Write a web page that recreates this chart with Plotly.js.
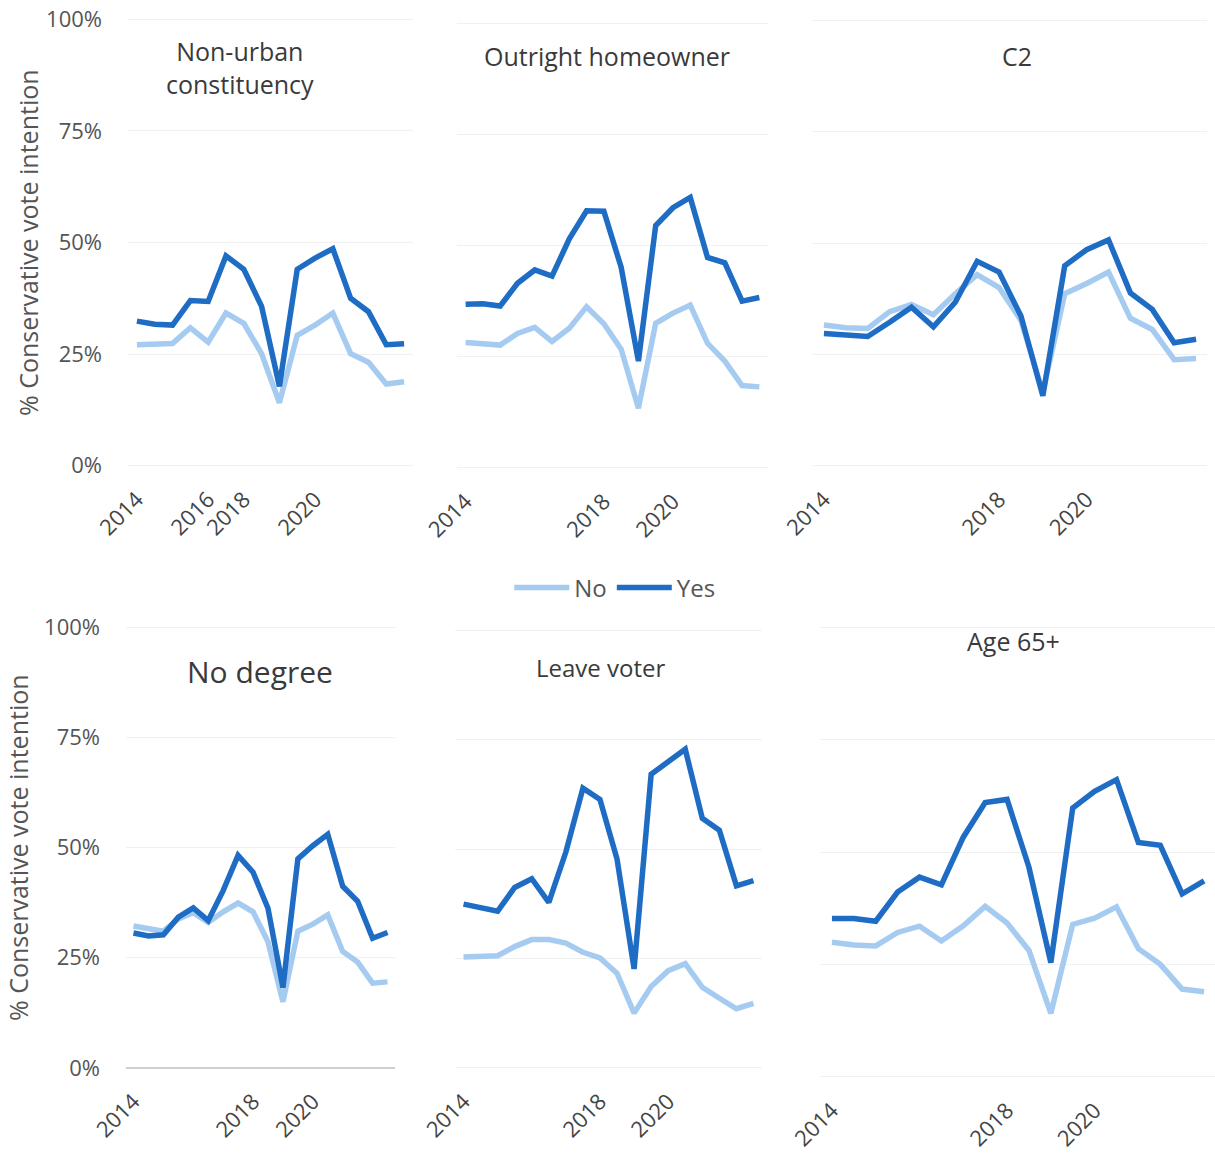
<!DOCTYPE html>
<html>
<head>
<meta charset="utf-8">
<script src="https://cdn.plot.ly/plotly-3.0.1.min.js"></script>
<style>html,body{margin:0;padding:0;background:#fff;}#chart{width:1215px;height:1156px;}</style>
</head>
<body>
<div id="chart"></div>
<script>
// ---- data ----
const panelTitles = ["Non-urban<br>constituency", "Outright homeowner", "C2", "No degree", "Leave voter", "Age 65+"];
const seriesNames = ["No", "Yes"];

// wave positions (category index along each panel's x axis)
const waves16 = [0,1,2,3,4,5,6,7,8,9,10,11,12,13,14,15];
const waves18 = [0,1,2,3,4,5,6,7,8,9,10,11,12,13,14,15,16,17];

// tick labels
const tickPos1 = [0, 4, 6, 10];
const tickText1 = ["2014", "2016", "2018", "2020"];
const tickPosOther = [0, 8, 12];
const tickTextOther = ["2014", "2018", "2020"];

// % Conservative vote intention
const nonUrbanNo  = [27.1,27.4,27.4,30.9,27.7,34.2,31.9,25.1,14.1,29.2,31.5,34.2,25.1,23.2,18.3,18.8];
const nonUrbanYes = [32.4,31.7,31.5,37.0,36.8,47.0,44.0,35.7,17.8,44.0,46.5,48.6,37.5,34.5,27.1,27.3];

const homeownerNo  = [28.2,27.8,27.6,30.2,31.6,28.4,31.4,36.2,32.4,26.7,13.4,32.5,34.8,36.6,28.0,24.0,18.5,18.2];
const homeownerYes = [36.8,36.9,36.4,41.5,44.5,43.1,51.5,57.8,57.7,45.1,24.0,54.5,58.5,60.8,47.3,46.1,37.5,38.3];

const c2No  = [31.6,31.0,30.8,34.6,36.2,33.9,38.6,42.9,40.0,32.6,16.5,38.6,40.9,43.5,33.1,30.6,23.8,24.1];
const c2Yes = [29.7,29.4,29.0,32.2,35.6,31.2,36.7,45.9,43.5,33.6,15.7,44.9,48.5,50.7,38.8,35.1,27.6,28.4];

const noDegreeNo  = [32.2,31.5,31.0,33.8,35.2,33.0,35.4,37.4,35.4,28.6,15.0,31.0,32.6,34.7,26.4,24.0,19.2,19.5];
const noDegreeYes = [30.6,29.9,30.2,34.2,36.3,33.4,40.2,48.2,44.4,36.2,18.2,47.4,50.4,53.0,41.2,37.8,29.4,30.7];

const leaveNo  = [25.3,25.5,25.6,27.7,29.3,29.3,28.5,26.4,25.1,21.6,12.5,18.6,22.2,23.8,18.4,15.9,13.5,14.7];
const leaveYes = [37.4,36.6,35.8,41.2,43.2,37.8,49.3,63.9,61.3,47.7,22.6,67.1,69.8,72.8,57.0,54.3,41.6,42.8];

const age65No  = [29.9,29.3,29.1,32.1,33.5,30.2,33.6,37.9,34.2,28.1,14.1,33.9,35.3,37.8,28.5,25.0,19.5,18.9];
const age65Yes = [35.2,35.2,34.6,41.1,44.4,42.7,53.3,61.0,61.7,46.6,25.4,59.8,63.5,66.1,52.1,51.5,40.7,43.6];

const yTicks = [0, 25, 50, 75, 100];
const yTickText = ["0%", "25%", "50%", "75%", "100%"];
const yTitle = "% Conservative vote intention";

// ---- styling / layout ----
const FONT = "Open Sans, sans-serif";
const colNo = "#a6cbf1";
const colYes = "#1e6cc4";
const GRID = "#f0f0f0";

const panels = [
  {x: waves16, no: nonUrbanNo,  yes: nonUrbanYes,  tv: tickPos1,     tt: tickText1,     n: 16,
   dx: [128/1215, 413/1215], dy: [1-468/1156, 1-17/1156], left: true,
   title: {x: 240, y: 67, size: 25}},
  {x: waves18, no: homeownerNo, yes: homeownerYes, tv: tickPosOther, tt: tickTextOther, n: 18,
   dx: [457/1215, 768/1215], dy: [1-470/1156, 1-21/1156], left: false,
   title: {x: 607, y: 56, size: 25}},
  {x: waves18, no: c2No,        yes: c2Yes,        tv: tickPosOther, tt: tickTextOther, n: 18,
   dx: [813/1215, 1207/1215], dy: [1-468/1156, 1-18/1156], left: false,
   title: {x: 1017, y: 56, size: 25}},
  {x: waves18, no: noDegreeNo,  yes: noDegreeYes,  tv: tickPosOther, tt: tickTextOther, n: 18,
   dx: [126/1215, 395/1215], dy: [1-1070/1156, 1-625/1156], left: true, zero: true,
   title: {x: 260, y: 671, size: 30}},
  {x: waves18, no: leaveNo,     yes: leaveYes,     tv: tickPosOther, tt: tickTextOther, n: 18,
   dx: [455/1215, 762/1215], dy: [1-1070/1156, 1-628/1156], left: false,
   title: {x: 600, y: 667, size: 24}},
  {x: waves18, no: age65No,     yes: age65Yes,     tv: tickPosOther, tt: tickTextOther, n: 18,
   dx: [821/1215, 1], dy: [1-1079/1156, 1-625/1156], left: false,
   title: {x: 1013, y: 641, size: 25}}
];

const traces = [];
const layout = {
  width: 1215, height: 1156,
  margin: {l: 0, r: 0, t: 0, b: 0},
  paper_bgcolor: "#fff", plot_bgcolor: "#fff",
  font: {family: FONT, color: "#444"},
  showlegend: true,
  legend: {orientation: "h", x: 0.506, y: 1-588/1156, xanchor: "center", yanchor: "middle",
           font: {size: 24, color: "#555", family: FONT}, itemwidth: 55, tracegroupgap: 0,
           bgcolor: "rgba(0,0,0,0)"},
  annotations: []
};

panels.forEach((p, i) => {
  const k = i + 1;
  const xa = k === 1 ? "x" : "x" + k;
  const ya = k === 1 ? "y" : "y" + k;
  traces.push({x: p.x, y: p.no, xaxis: xa, yaxis: ya, type: "scatter", mode: "lines",
               name: seriesNames[0], legendgroup: "no", showlegend: i === 0,
               line: {color: colNo, width: 5.5}});
  traces.push({x: p.x, y: p.yes, xaxis: xa, yaxis: ya, type: "scatter", mode: "lines",
               name: seriesNames[1], legendgroup: "yes", showlegend: i === 0,
               line: {color: colYes, width: 5.5}});
  layout["xaxis" + (k === 1 ? "" : k)] = {
    domain: p.dx, anchor: ya, range: [-0.5, p.n - 0.5],
    tickmode: "array", tickvals: p.tv, ticktext: p.tt, tickangle: -45,
    tickfont: {size: 22, color: "#444", family: FONT},
    showgrid: false, zeroline: false, showline: false,
    ticks: "outside", ticklen: 9, tickcolor: "rgba(0,0,0,0)", fixedrange: true
  };
  layout["yaxis" + (k === 1 ? "" : k)] = {
    domain: p.dy, anchor: xa, range: [-0.5, 100.5],
    tickmode: "array", tickvals: yTicks, ticktext: yTickText,
    showticklabels: p.left, tickfont: {size: 22, color: "#555", family: FONT},
    showgrid: true, gridcolor: GRID, gridwidth: 1,
    zeroline: true, zerolinecolor: p.zero ? "#d0d0d0" : GRID, zerolinewidth: p.zero ? 2 : 1,
    showline: false, ticks: "", ticklabelstandoff: 25, fixedrange: true
  };
  layout.annotations.push({
    text: panelTitles[i], xref: "paper", yref: "paper",
    x: p.title.x / 1215, y: 1 - p.title.y / 1156, xanchor: "center", yanchor: "middle",
    showarrow: false, align: "center",
    font: {size: p.title.size, color: "#3a3a3a", family: FONT}
  });
});

// y-axis titles
layout.annotations.push({text: yTitle, xref: "paper", yref: "paper", x: 28/1215, y: 1 - 243/1156,
  xanchor: "center", yanchor: "middle", textangle: -90, showarrow: false,
  font: {size: 25, color: "#555", family: FONT}});
layout.annotations.push({text: yTitle, xref: "paper", yref: "paper", x: 18/1215, y: 1 - 848/1156,
  xanchor: "center", yanchor: "middle", textangle: -90, showarrow: false,
  font: {size: 25, color: "#555", family: FONT}});

Plotly.newPlot("chart", traces, layout, {displayModeBar: false, staticPlot: true});
</script>
</body>
</html>
